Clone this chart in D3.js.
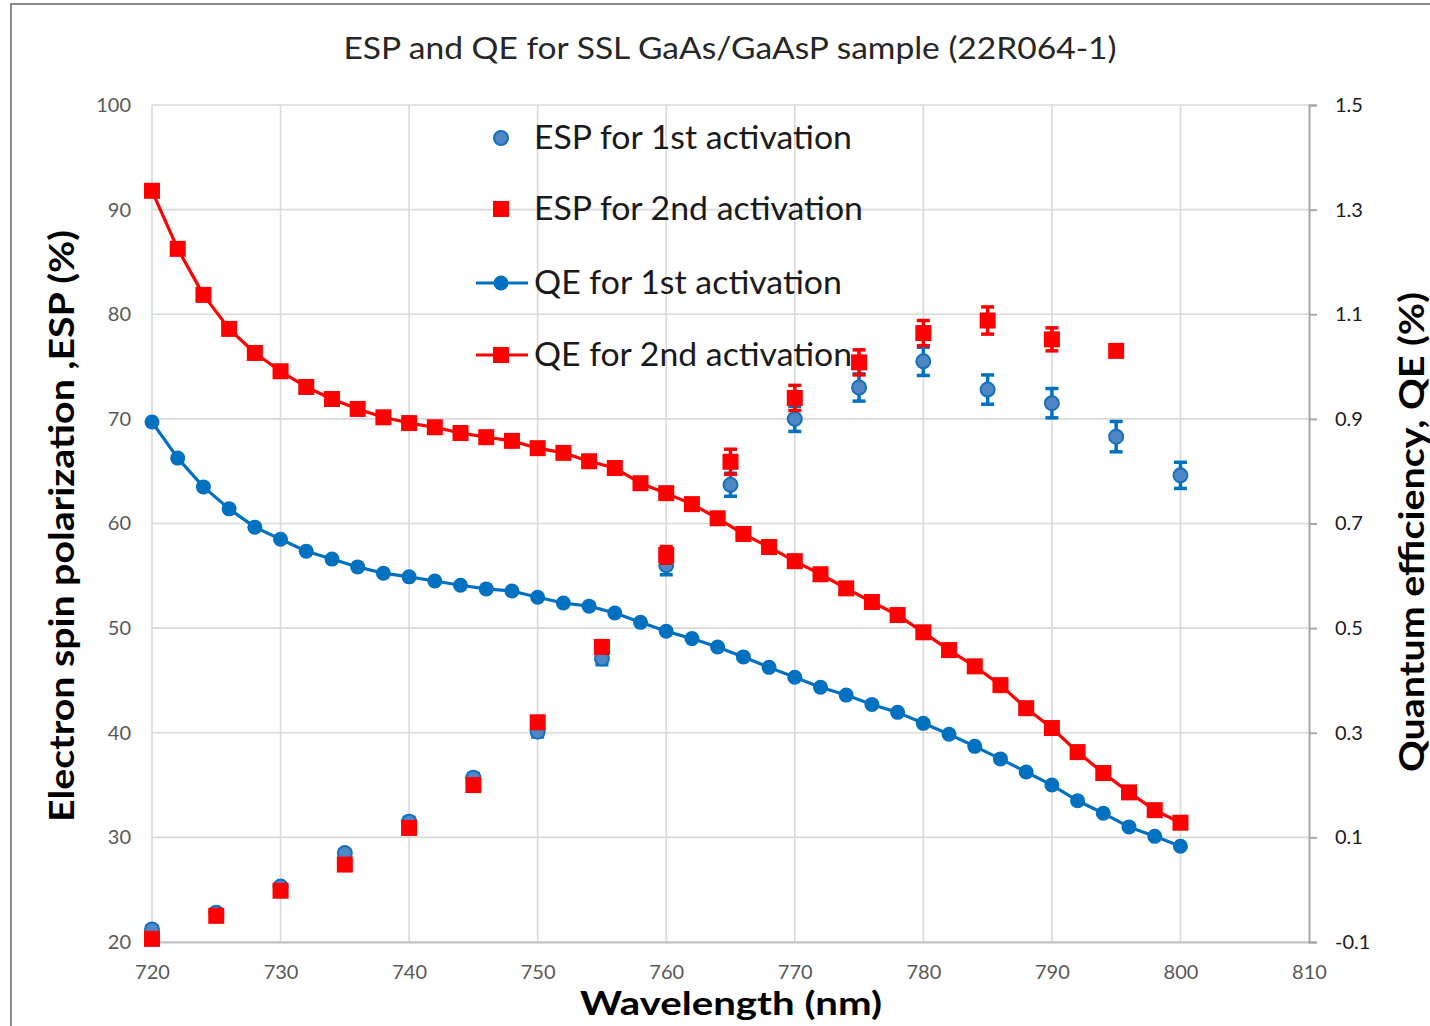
<!DOCTYPE html>
<html>
<head>
<meta charset="utf-8">
<script src="https://cdn.jsdelivr.net/npm/d3@7"></script>
<style>
  html, body { margin: 0; padding: 0; background: #fff; }
  svg { display: block; font-family: Lato, "Open Sans", sans-serif; }
</style>
</head>
<body>
<svg id="chart" width="1430" height="1026"></svg>
<script>
// Wavelength grid for QE scans (nm)
const qeWavelength = [720,722,724,726,728,730,732,734,736,738,740,742,744,746,748,750,752,754,756,758,760,762,764,766,768,770,772,774,776,778,780,782,784,786,788,790,792,794,796,798,800];
// Quantum efficiency (%) — 1st and 2nd activation
const qeFirst = [0.894,0.825,0.770,0.728,0.693,0.670,0.647,0.632,0.617,0.605,0.598,0.590,0.582,0.575,0.571,0.559,0.548,0.542,0.529,0.511,0.494,0.480,0.464,0.445,0.425,0.406,0.387,0.372,0.354,0.339,0.318,0.297,0.274,0.250,0.225,0.200,0.170,0.146,0.120,0.102,0.083];
const qeSecond = [1.336,1.225,1.137,1.072,1.026,0.991,0.961,0.938,0.919,0.903,0.892,0.884,0.873,0.865,0.858,0.844,0.835,0.819,0.806,0.777,0.758,0.737,0.710,0.680,0.655,0.628,0.603,0.576,0.550,0.525,0.492,0.458,0.427,0.391,0.347,0.309,0.263,0.223,0.186,0.152,0.128];

// Electron spin polarization (%) with uncertainties
const espWavelengthFirst = [720,725,730,735,740,745,750,755,760,765,770,775,780,785,790,795,800];
const espFirst = [21.2,22.8,25.3,28.5,31.5,35.7,40.1,47.1,56.0,63.7,70.0,73.0,75.5,72.8,71.5,68.3,64.6];
const espFirstErr = [0.3,0.3,0.3,0.3,0.4,0.4,0.5,0.6,0.9,1.1,1.2,1.3,1.35,1.4,1.4,1.45,1.25];
const espWavelengthSecond = [720,725,730,735,740,745,750,755,760,765,770,775,780,785,790,795];
const espSecond = [20.3,22.5,24.9,27.4,30.9,35.0,41.0,48.2,57.0,65.9,72.0,75.4,78.2,79.4,77.6,76.5];
const espSecondErr = [0.3,0.3,0.3,0.3,0.4,0.4,0.5,0.6,0.8,1.2,1.2,1.2,1.2,1.3,1.1,0];

// Axis ticks
const xTicks = [720,730,740,750,760,770,780,790,800,810];
const leftTicks = [20,30,40,50,60,70,80,90,100];
const rightTicks = [-0.1,0.1,0.3,0.5,0.7,0.9,1.1,1.3,1.5];

const legendLabels = ["ESP for 1st activation","ESP for 2nd activation","QE for 1st activation","QE for 2nd activation"];

const BLUE = "#0070C0", RED = "#FF0000";

const svg = d3.select("#chart");
const x = d3.scaleLinear().domain([720, 810]).range([152, 1309]);
const yL = d3.scaleLinear().domain([20, 100]).range([942, 105]);
const yR = d3.scaleLinear().domain([-0.1, 1.5]).range([942, 105]);

// outer chart frame
svg.append("rect").attr("x", 11).attr("y", 4).attr("width", 1440).attr("height", 1040)
  .attr("fill", "none").attr("stroke", "#8a8a8a").attr("stroke-width", 2);

// gridlines
const grid = svg.append("g").attr("stroke", "#d9d9d9").attr("stroke-width", 1.6);
grid.selectAll("line.h").data(leftTicks).join("line")
  .attr("x1", x(720)).attr("x2", x(810)).attr("y1", d => yL(d)).attr("y2", d => yL(d));
grid.selectAll("line.v").data(xTicks.slice(0, -1)).join("line")
  .attr("y1", yL(20)).attr("y2", yL(100)).attr("x1", d => x(d)).attr("x2", d => x(d));

// bottom axis
const gx = svg.append("g").attr("transform", `translate(0,${yL(20)})`)
  .call(d3.axisBottom(x).tickValues(xTicks).tickSize(0).tickPadding(23));
gx.select(".domain").attr("stroke", "#bfbfbf").attr("stroke-width", 2);
gx.selectAll("text").attr("font-size", 20).attr("fill", "#595959").attr("font-family", "Lato, sans-serif");

// left axis
const gl = svg.append("g").attr("transform", `translate(${x(720)},0)`)
  .call(d3.axisLeft(yL).tickValues(leftTicks).tickSize(0).tickPadding(21));
gl.select(".domain").remove();
gl.selectAll("text").attr("font-size", 20).attr("fill", "#595959").attr("font-family", "Lato, sans-serif");

// right axis
const gr = svg.append("g").attr("transform", `translate(${x(810)},0)`)
  .call(d3.axisRight(yR).tickValues(rightTicks).tickSize(8).tickPadding(18).tickFormat(d => d.toFixed(1)));
gr.select(".domain").attr("stroke", "#a6a6a6").attr("stroke-width", 2);
gr.selectAll(".tick line").attr("stroke", "#a6a6a6").attr("stroke-width", 2);
gr.selectAll("text").attr("font-size", 20).attr("fill", "#1a1a1a").attr("font-family", "Lato, sans-serif");

// ESP points with error bars
function espSeries(wl, vals, errs, color, shape) {
  const g = svg.append("g");
  const data = wl.map((w, i) => ({ w, v: vals[i], e: errs[i] }));
  const eb = g.append("g").attr("stroke", color).attr("stroke-width", 3.5);
  data.filter(d => d.e > 0).forEach(d => {
    const cx = x(d.w);
    eb.append("line").attr("x1", cx).attr("x2", cx).attr("y1", yL(d.v - d.e)).attr("y2", yL(d.v + d.e));
    eb.append("line").attr("x1", cx - 6.5).attr("x2", cx + 6.5).attr("y1", yL(d.v - d.e)).attr("y2", yL(d.v - d.e));
    eb.append("line").attr("x1", cx - 6.5).attr("x2", cx + 6.5).attr("y1", yL(d.v + d.e)).attr("y2", yL(d.v + d.e));
  });
  if (shape === "circle") {
    g.selectAll("circle").data(data).join("circle")
      .attr("cx", d => x(d.w)).attr("cy", d => yL(d.v)).attr("r", 7)
      .attr("fill", "#4f86c4").attr("stroke", "#1670bd").attr("stroke-width", 2);
  } else {
    g.selectAll("rect").data(data).join("rect")
      .attr("x", d => x(d.w) - 8).attr("y", d => yL(d.v) - 8).attr("width", 16).attr("height", 16)
      .attr("fill", color);
  }
}
espSeries(espWavelengthFirst, espFirst, espFirstErr, BLUE, "circle");
espSeries(espWavelengthSecond, espSecond, espSecondErr, RED, "square");

// QE curves
function qeSeries(vals, color, shape) {
  const data = qeWavelength.map((w, i) => ({ w, v: vals[i] }));
  const g = svg.append("g");
  g.append("path").datum(data)
    .attr("d", d3.line().x(d => x(d.w)).y(d => yR(d.v)))
    .attr("fill", "none").attr("stroke", color).attr("stroke-width", 3.2).attr("stroke-linejoin", "round");
  if (shape === "circle") {
    g.selectAll("circle").data(data).join("circle")
      .attr("cx", d => x(d.w)).attr("cy", d => yR(d.v)).attr("r", 7.5).attr("fill", color);
  } else {
    g.selectAll("rect").data(data).join("rect")
      .attr("x", d => x(d.w) - 8).attr("y", d => yR(d.v) - 8).attr("width", 16).attr("height", 16).attr("fill", color);
  }
}
qeSeries(qeFirst, BLUE, "circle");
qeSeries(qeSecond, RED, "square");

// legend
const legendRows = [138, 209, 283, 355];
const legendWidths = [318, 329, 308, 318];
const lg = svg.append("g");
const mx = 501;
lg.append("circle").attr("cx", mx).attr("cy", legendRows[0]).attr("r", 7)
  .attr("fill", "#4f86c4").attr("stroke", "#1670bd").attr("stroke-width", 2);
lg.append("rect").attr("x", mx - 8).attr("y", legendRows[1] - 8).attr("width", 16).attr("height", 16).attr("fill", RED);
lg.append("line").attr("x1", 476).attr("x2", 528).attr("y1", legendRows[2]).attr("y2", legendRows[2])
  .attr("stroke", BLUE).attr("stroke-width", 3.2);
lg.append("circle").attr("cx", mx).attr("cy", legendRows[2]).attr("r", 7.5).attr("fill", BLUE);
lg.append("line").attr("x1", 476).attr("x2", 528).attr("y1", legendRows[3]).attr("y2", legendRows[3])
  .attr("stroke", RED).attr("stroke-width", 3.2);
lg.append("rect").attr("x", mx - 8).attr("y", legendRows[3] - 8).attr("width", 16).attr("height", 16).attr("fill", RED);
lg.selectAll("text").data(legendLabels).join("text")
  .attr("x", 534).attr("y", (d, i) => legendRows[i] + 11)
  .attr("font-size", 32).attr("fill", "#1a1a1a")
  .attr("textLength", (d, i) => legendWidths[i]).attr("lengthAdjust", "spacingAndGlyphs")
  .text(d => d);

// titles
svg.append("text").attr("x", 730).attr("y", 59).attr("text-anchor", "middle")
  .attr("font-size", 30).attr("fill", "#262626")
  .attr("textLength", 773).attr("lengthAdjust", "spacingAndGlyphs")
  .text("ESP and QE for SSL GaAs/GaAsP sample (22R064-1)");

svg.append("text").attr("x", 731).attr("y", 1015).attr("text-anchor", "middle")
  .attr("font-size", 32).attr("font-weight", "bold").attr("fill", "#000")
  .attr("textLength", 302).attr("lengthAdjust", "spacingAndGlyphs")
  .text("Wavelength (nm)");

svg.append("text").attr("transform", "translate(74,526) rotate(-90)").attr("text-anchor", "middle")
  .attr("font-size", 34).attr("font-weight", "bold").attr("fill", "#000")
  .attr("textLength", 592).attr("lengthAdjust", "spacingAndGlyphs")
  .text("Electron spin polarization ,ESP (%)");

svg.append("text").attr("transform", "translate(1424,532) rotate(-90)").attr("text-anchor", "middle")
  .attr("font-size", 35).attr("font-weight", "bold").attr("fill", "#000")
  .attr("textLength", 480).attr("lengthAdjust", "spacingAndGlyphs")
  .text("Quantum efficiency, QE (%)");
</script>
</body>
</html>
